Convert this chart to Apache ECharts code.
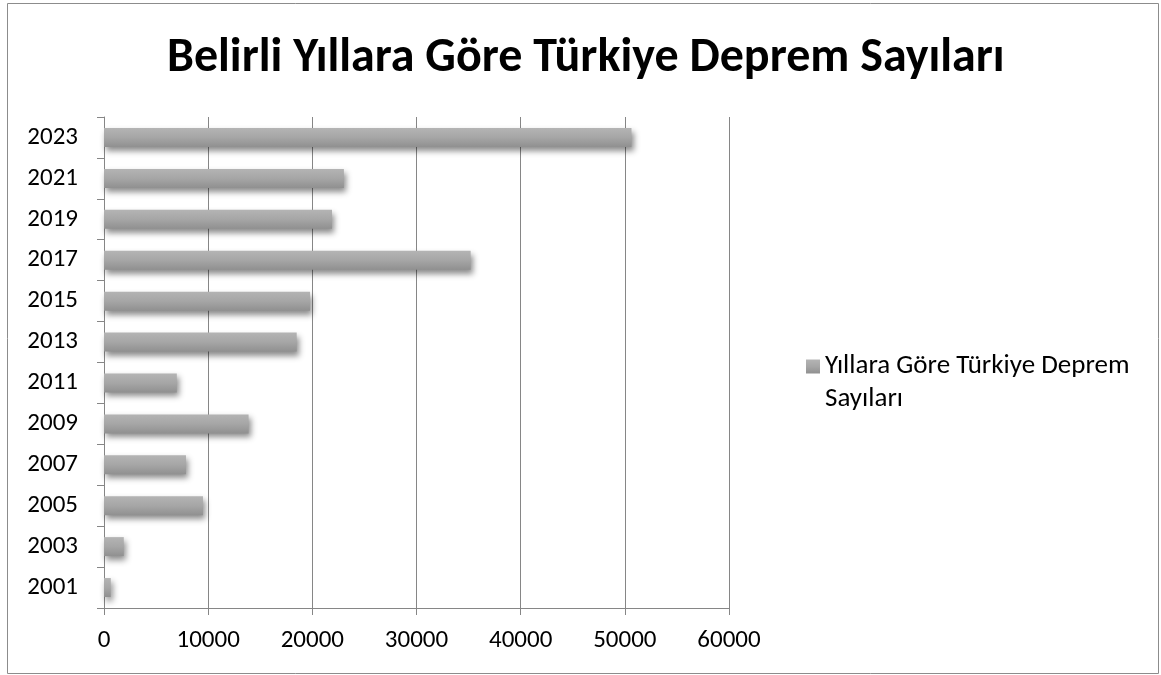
<!DOCTYPE html>
<html>
<head>
<meta charset="utf-8">
<title>Belirli Yıllara Göre Türkiye Deprem Sayıları</title>
<script src="https://cdn.jsdelivr.net/npm/echarts@6/dist/echarts.min.js"></script>
<style>
  html, body { margin: 0; padding: 0; background: #fff; }
  #chart { width: 1161px; height: 675px; }
</style>
</head>
<body>
<div id="chart"></div>
<script>
// Yıllar ve deprem sayıları
const years = ['2001', '2003', '2005', '2007', '2009', '2011', '2013', '2015', '2017', '2019', '2021', '2023'];
const counts = [650, 1900, 9500, 7870, 13880, 6990, 18500, 19780, 35200, 21890, 23030, 50640];
const xTicks = [0, 10000, 20000, 30000, 40000, 50000, 60000];

const seriesName = 'Yıllara Göre Türkiye Deprem Sayıları';
const chartTitle = 'Belirli Yıllara Göre Türkiye Deprem Sayıları';

const FONT = 'Carlito, Lato, sans-serif';
const AXIS_GREY = '#868686';

const barFill = new echarts.graphic.LinearGradient(0, 0, 0, 1, [
  { offset: 0, color: '#b4b4b4' },
  { offset: 0.5, color: '#a6a6a6' },
  { offset: 1, color: '#909090' }
]);

const chart = echarts.init(document.getElementById('chart'), null, { renderer: 'canvas' });

chart.setOption({
  backgroundColor: '#ffffff',
  animation: false,
  title: {
    text: chartTitle,
    left: 162,
    top: 30,
    textStyle: { fontFamily: FONT, fontWeight: 'bold', fontSize: 48, color: '#000' }
  },
  legend: {
    orient: 'vertical',
    left: 801,
    top: 312,
    icon: 'rect',
    itemWidth: 14,
    itemHeight: 14,
    itemGap: 0,
    selectedMode: false,
    data: [seriesName],
    // empty first line keeps the marker level with the first text line;
    // the last word wraps onto its own line
    formatter: name => '\n' + name.replace(/ (\S+)$/, '\n$1'),
    textStyle: {
      fontFamily: FONT,
      fontSize: 27,
      color: '#000',
      lineHeight: 33
    }
  },
  grid: { left: 104, right: 432, top: 117, bottom: 67, containLabel: false },
  xAxis: {
    type: 'value',
    min: xTicks[0],
    max: xTicks[xTicks.length - 1],
    interval: xTicks[1] - xTicks[0],
    axisLine: { show: true, lineStyle: { color: AXIS_GREY, width: 1 } },
    axisTick: { show: true, length: 7, lineStyle: { color: AXIS_GREY } },
    splitLine: { show: true, lineStyle: { color: AXIS_GREY, width: 1 } },
    axisLabel: {
      fontFamily: FONT, fontSize: 25, color: '#000', margin: 20,
      formatter: v => String(v)
    }
  },
  yAxis: {
    type: 'category',
    data: years,
    axisLine: { show: true, lineStyle: { color: AXIS_GREY, width: 1 } },
    axisTick: { show: true, length: 7, alignWithLabel: false, lineStyle: { color: AXIS_GREY } },
    splitLine: { show: false },
    axisLabel: { fontFamily: FONT, fontSize: 25, color: '#000', margin: 26 }
  },
  series: [{
    name: seriesName,
    type: 'bar',
    data: counts,
    barWidth: 19,
    itemStyle: {
      color: barFill,
      shadowColor: 'rgba(0, 0, 0, 0.45)',
      shadowBlur: 6,
      shadowOffsetX: 2,
      shadowOffsetY: 4
    }
  }],
  graphic: [{
    type: 'rect',
    silent: true,
    shape: { x: 7.5, y: 3.5, width: 1151, height: 670 },
    style: { fill: 'none', stroke: '#8c8c8c', lineWidth: 1 }
  }]
});
</script>
</body>
</html>
